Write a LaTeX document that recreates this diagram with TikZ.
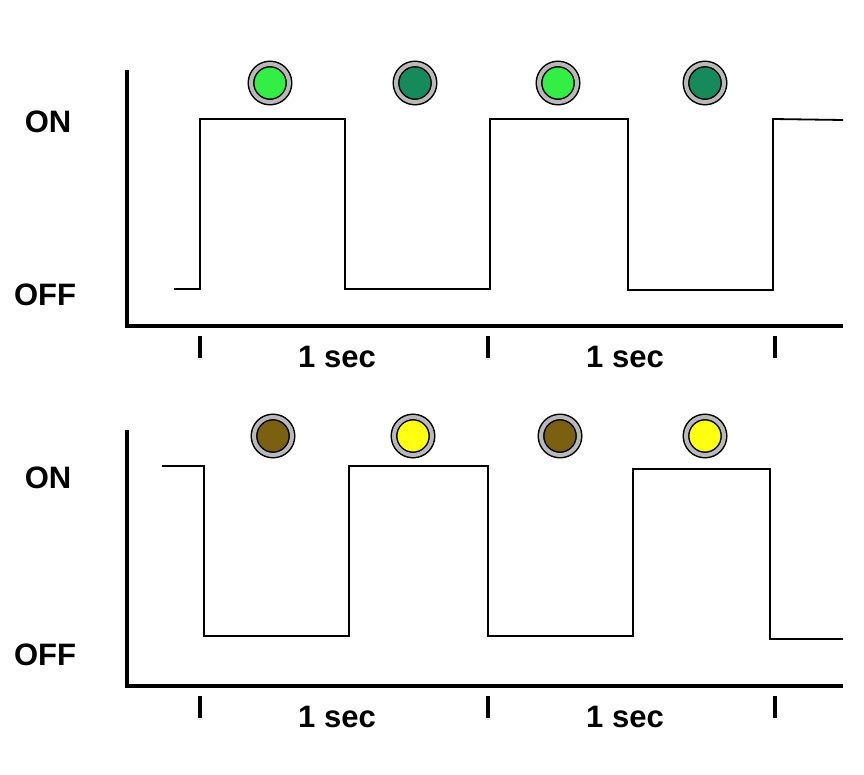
\documentclass[tikz,border=0pt]{standalone}
\usepackage{fontspec}
\setmainfont{Liberation Sans}
\begin{document}
\begin{tikzpicture}[x=1pt,y=-1pt,
 axis/.style={line width=3.5pt},
 sig/.style={line width=1.8pt},
 lbl/.style={font=\bfseries\fontsize{31}{36}\selectfont},
 led/.style={circle,minimum size=38pt,draw=black,line width=1.5pt,
   double=gray!55,double distance=4pt,inner sep=0pt}]
\useasboundingbox (0,0) rectangle (864,775);
\definecolor{lgreen}{HTML}{33EE44}\definecolor{dgreen}{HTML}{168A5A}
\definecolor{lyel}{HTML}{FFFF10}\definecolor{dyel}{HTML}{7A6010}
% top
\coordinate (ta) at (127,70); \coordinate (to) at (127,326); \coordinate (tx) at (843,326);
\draw[axis] (ta) -- (to) -- (tx);
\foreach \x [count=\i] in {200,488,775}{\coordinate (tt\i) at (\x,336); \draw[axis] (tt\i) -- ++(0,22);}
\node[lbl] (on1) at (48,122) {ON};
\node[lbl] (off1) at (45,295) {OFF};
\node[lbl] (s1) at (337,357) {1 sec};
\node[lbl] (s2) at (625,357) {1 sec};
\draw[sig] (174,289)-|(200,119)-|(345,289)-|(490,119)-|(628,290)-|(773,119)--(843,120);
\node[led,fill=lgreen] (l1) at (270,83) {};
\node[led,fill=dgreen] (l2) at (415,83) {};
\node[led,fill=lgreen] (l3) at (558,83) {};
\node[led,fill=dgreen] (l4) at (705,83) {};
% bottom
\coordinate (ba) at (127,430); \coordinate (bo) at (127,686); \coordinate (bx) at (843,686);
\draw[axis] (ba) -- (bo) -- (bx);
\foreach \x [count=\i] in {200,488,775}{\coordinate (bt\i) at (\x,696); \draw[axis] (bt\i) -- ++(0,22);}
\node[lbl] (on2) at (48,478) {ON};
\node[lbl] (off2) at (45,655) {OFF};
\node[lbl] (s3) at (337,717) {1 sec};
\node[lbl] (s4) at (625,717) {1 sec};
\draw[sig] (162,466)-|(204,636)-|(349,466)-|(488,636)-|(633,469)-|(770,639)--(843,639);
\node[led,fill=dyel] (m1) at (273,436) {};
\node[led,fill=lyel] (m2) at (413,436) {};
\node[led,fill=dyel] (m3) at (560,436) {};
\node[led,fill=lyel] (m4) at (705,436) {};
\end{tikzpicture}
\end{document}
